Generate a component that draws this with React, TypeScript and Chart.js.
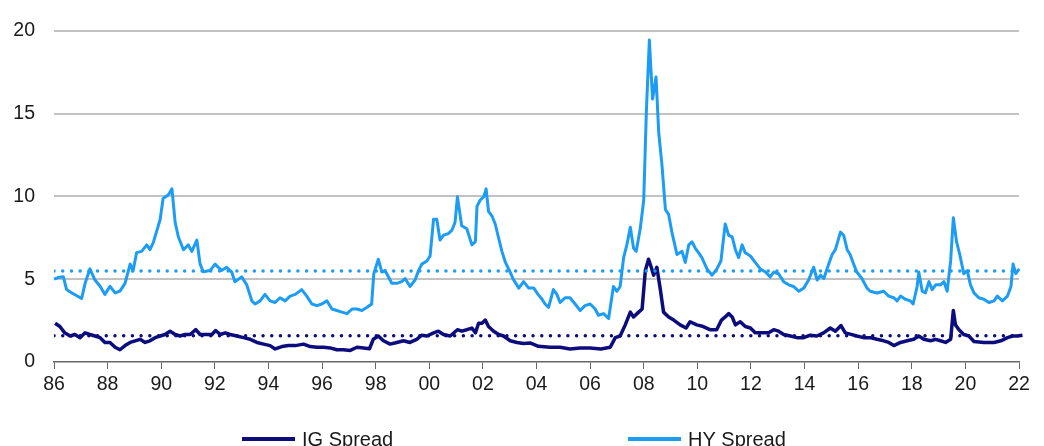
import React, { useEffect, useRef } from 'react';
import { Chart, registerables } from 'chart.js';

Chart.register(...registerables);

// ---- Data ----
const hyDates = [
  1986.0, 1986.15, 1986.35, 1986.47, 1986.66, 1986.85, 1987.03, 1987.16, 1987.34, 1987.53, 1987.72, 1987.9,
  1988.09, 1988.28, 1988.46, 1988.65, 1988.84, 1988.95, 1989.08, 1989.27, 1989.46, 1989.58, 1989.7, 1989.96,
  1990.07, 1990.27, 1990.4, 1990.52, 1990.64, 1990.83, 1991.01, 1991.14, 1991.33, 1991.45, 1991.57, 1991.82,
  1992.01, 1992.25, 1992.44, 1992.63, 1992.75, 1993.0, 1993.19, 1993.38, 1993.5, 1993.69, 1993.87, 1994.06,
  1994.25, 1994.43, 1994.62, 1994.81, 1995.0, 1995.24, 1995.43, 1995.62, 1995.81, 1995.99, 1996.18, 1996.37,
  1996.55, 1996.74, 1996.93, 1997.12, 1997.3, 1997.49, 1997.68, 1997.85, 1997.93, 1998.1, 1998.23, 1998.35,
  1998.6, 1998.79, 1998.97, 1999.1, 1999.28, 1999.47, 1999.6, 1999.72, 1999.91, 2000.03, 2000.16, 2000.28,
  2000.4, 2000.53, 2000.71, 2000.84, 2000.96, 2001.05, 2001.21, 2001.4, 2001.59, 2001.72, 2001.78, 2001.9,
  2002.03, 2002.12, 2002.21, 2002.34, 2002.46, 2002.59, 2002.71, 2002.84, 2002.96, 2003.15, 2003.34, 2003.52,
  2003.71, 2003.9, 2004.05, 2004.2, 2004.32, 2004.45, 2004.63, 2004.76, 2004.88, 2005.07, 2005.25, 2005.44,
  2005.63, 2005.81, 2006.0, 2006.19, 2006.31, 2006.5, 2006.69, 2006.87, 2007.0, 2007.12, 2007.25, 2007.37,
  2007.5, 2007.62, 2007.72, 2007.87, 2008.0, 2008.1, 2008.21, 2008.33, 2008.46, 2008.56, 2008.68, 2008.81,
  2008.93, 2009.05, 2009.24, 2009.43, 2009.55, 2009.68, 2009.8, 2009.92, 2010.05, 2010.17, 2010.36, 2010.55,
  2010.73, 2010.88, 2011.04, 2011.17, 2011.3, 2011.42, 2011.54, 2011.67, 2011.79, 2011.98, 2012.16, 2012.35,
  2012.54, 2012.72, 2012.85, 2013.03, 2013.22, 2013.41, 2013.59, 2013.78, 2013.97, 2014.15, 2014.34, 2014.47,
  2014.6, 2014.72, 2014.9, 2015.03, 2015.15, 2015.34, 2015.46, 2015.59, 2015.7, 2015.83, 2015.95, 2016.14,
  2016.33, 2016.45, 2016.7, 2016.95, 2017.14, 2017.33, 2017.45, 2017.58, 2017.76, 2017.95, 2018.05, 2018.2,
  2018.26, 2018.39, 2018.51, 2018.64, 2018.76, 2018.89, 2019.07, 2019.2, 2019.32, 2019.45, 2019.55, 2019.67,
  2019.79, 2019.94, 2020.07, 2020.19, 2020.32, 2020.5, 2020.69, 2020.88, 2021.07, 2021.19, 2021.38, 2021.57,
  2021.7, 2021.78, 2021.88, 2022.01, 2022.13,
];
const hyValues = [
  5.0, 5.1, 5.14, 4.37, 4.17, 4.0, 3.83, 4.75, 5.62, 4.95, 4.57, 4.08,
  4.57, 4.17, 4.28, 4.75, 5.91, 5.5, 6.6, 6.68, 7.07, 6.78, 7.19, 8.6,
  9.87, 10.1, 10.45, 8.42, 7.55, 6.78, 7.07, 6.68, 7.36, 5.91, 5.45, 5.52,
  5.91, 5.52, 5.72, 5.43, 4.85, 5.14, 4.66, 3.69, 3.5, 3.69, 4.08, 3.69,
  3.59, 3.88, 3.69, 3.98, 4.08, 4.37, 3.98, 3.5, 3.4, 3.5, 3.69, 3.2,
  3.11, 3.01, 2.92, 3.2, 3.2, 3.11, 3.3, 3.5, 5.33, 6.2, 5.43, 5.52,
  4.75, 4.75, 4.85, 5.04, 4.56, 4.95, 5.52, 5.91, 6.1, 6.4, 8.62, 8.62,
  7.36, 7.65, 7.75, 7.94, 8.42, 9.97, 8.23, 8.04, 7.07, 7.26, 9.39, 9.78,
  9.97, 10.45, 9.1, 8.81, 8.33, 7.46, 6.68, 6.01, 5.62, 4.95, 4.46, 4.85,
  4.46, 4.46, 4.1, 3.8, 3.5, 3.3, 4.37, 4.08, 3.59, 3.88, 3.88, 3.5,
  3.11, 3.4, 3.5, 3.2, 2.82, 2.92, 2.63, 4.56, 4.27, 4.56, 6.3, 7.07,
  8.13, 6.88, 6.68, 8.04, 9.78, 15.19, 19.44, 15.87, 17.2, 13.84, 11.9, 9.2,
  8.91, 7.84, 6.49, 6.68, 6.01, 7.07, 7.26, 6.88, 6.59, 6.3, 5.62, 5.24,
  5.62, 6.1, 8.33, 7.65, 7.55, 6.78, 6.3, 7.07, 6.59, 6.4, 6.01, 5.62,
  5.43, 5.14, 5.43, 5.33, 4.85, 4.66, 4.56, 4.27, 4.46, 4.95, 5.72, 4.95,
  5.24, 5.04, 5.91, 6.49, 6.78, 7.84, 7.65, 6.78, 6.49, 5.91, 5.43, 5.04,
  4.46, 4.27, 4.17, 4.27, 3.98, 3.88, 3.69, 3.98, 3.79, 3.69, 3.5, 4.56,
  5.43, 4.27, 4.17, 4.85, 4.37, 4.66, 4.66, 4.85, 4.27, 6.1, 8.71, 7.26,
  6.49, 5.33, 5.52, 4.66, 4.17, 3.88, 3.79, 3.59, 3.69, 3.98, 3.69, 3.98,
  4.56, 5.91, 5.33, 5.62, 4.75,
];

const igDates = [
  1986.04, 1986.22, 1986.4, 1986.6, 1986.78, 1986.97, 1987.16, 1987.34, 1987.53, 1987.72, 1987.9, 1988.09,
  1988.28, 1988.46, 1988.65, 1988.84, 1989.03, 1989.21, 1989.4, 1989.58, 1989.77, 1989.96, 1990.14, 1990.33,
  1990.52, 1990.7, 1990.89, 1991.08, 1991.29, 1991.45, 1991.7, 1991.89, 1992.03, 1992.2, 1992.39, 1992.57,
  1992.82, 1993.07, 1993.32, 1993.57, 1993.82, 1994.06, 1994.25, 1994.5, 1994.75, 1995.0, 1995.31, 1995.56,
  1995.81, 1996.06, 1996.3, 1996.55, 1996.8, 1997.05, 1997.3, 1997.55, 1997.77, 1997.91, 1998.1, 1998.29,
  1998.54, 1998.79, 1999.04, 1999.28, 1999.53, 1999.72, 1999.91, 2000.16, 2000.34, 2000.53, 2000.78, 2001.05,
  2001.21, 2001.4, 2001.59, 2001.72, 2001.84, 2001.97, 2002.09, 2002.21, 2002.4, 2002.59, 2002.77, 2003.02,
  2003.27, 2003.52, 2003.76, 2004.07, 2004.5, 2004.88, 2005.25, 2005.63, 2006.0, 2006.4, 2006.75, 2006.94,
  2007.12, 2007.31, 2007.5, 2007.62, 2007.75, 2007.94, 2008.06, 2008.18, 2008.28, 2008.37, 2008.49, 2008.62,
  2008.74, 2008.93, 2009.12, 2009.36, 2009.58, 2009.73, 2009.98, 2010.22, 2010.47, 2010.72, 2010.9, 2011.04,
  2011.17, 2011.3, 2011.42, 2011.6, 2011.79, 2011.98, 2012.16, 2012.41, 2012.66, 2012.85, 2013.03, 2013.22,
  2013.47, 2013.72, 2013.97, 2014.21, 2014.46, 2014.71, 2014.96, 2015.15, 2015.36, 2015.52, 2015.7, 2015.95,
  2016.2, 2016.45, 2016.7, 2016.95, 2017.14, 2017.33, 2017.58, 2017.83, 2018.07, 2018.26, 2018.45, 2018.7,
  2018.89, 2019.07, 2019.26, 2019.45, 2019.55, 2019.63, 2019.76, 2019.94, 2020.13, 2020.32, 2020.69, 2021.07,
  2021.32, 2021.57, 2021.76, 2021.94, 2022.13,
];
const igValues = [
  2.34, 2.14, 1.76, 1.57, 1.66, 1.47, 1.76, 1.66, 1.57, 1.47, 1.18, 1.18,
  0.89, 0.74, 0.99, 1.18, 1.28, 1.37, 1.18, 1.28, 1.47, 1.57, 1.66, 1.86,
  1.66, 1.57, 1.66, 1.66, 1.95, 1.66, 1.66, 1.66, 1.9, 1.66, 1.76, 1.66,
  1.57, 1.47, 1.37, 1.18, 1.08, 0.99, 0.79, 0.93, 0.99, 0.99, 1.08, 0.93,
  0.89, 0.89, 0.85, 0.74, 0.74, 0.7, 0.89, 0.85, 0.8, 1.37, 1.57, 1.28,
  1.08, 1.18, 1.28, 1.18, 1.37, 1.62, 1.57, 1.76, 1.86, 1.66, 1.57, 1.95,
  1.86, 1.95, 2.05, 1.76, 2.34, 2.34, 2.53, 2.14, 1.86, 1.66, 1.57, 1.28,
  1.18, 1.12, 1.15, 0.95, 0.89, 0.89, 0.79, 0.85, 0.85, 0.79, 0.89, 1.47,
  1.57, 2.24, 3.01, 2.72, 2.92, 3.2, 5.52, 6.2, 5.72, 5.24, 5.72, 4.37,
  3.01, 2.72, 2.53, 2.24, 2.05, 2.43, 2.24, 2.14, 1.95, 1.95, 2.53, 2.72,
  2.92, 2.72, 2.24, 2.43, 2.14, 2.05, 1.76, 1.76, 1.76, 1.95, 1.86, 1.66,
  1.57, 1.47, 1.47, 1.62, 1.57, 1.76, 2.05, 1.86, 2.2, 1.76, 1.68, 1.57,
  1.47, 1.47, 1.37, 1.28, 1.18, 0.99, 1.18, 1.28, 1.37, 1.57, 1.37, 1.28,
  1.37, 1.28, 1.18, 1.37, 3.11, 2.24, 1.95, 1.66, 1.57, 1.24, 1.18, 1.18,
  1.28, 1.47, 1.57, 1.57, 1.62,
];

const hyAverage = [5.49];
const igAverage = [1.58];
const xTickValues = [1986, 1988, 1990, 1992, 1994, 1996, 1998, 2000, 2002, 2004, 2006, 2008, 2010, 2012, 2014, 2016, 2018, 2020, 2022];
const xTickLabels = ['86', '88', '90', '92', '94', '96', '98', '00', '02', '04', '06', '08', '10', '12', '14', '16', '18', '20', '22'];
const yTickValues = [0, 5, 10, 15, 20];
const seriesLabels = ['IG Spread', 'HY Spread'];

// ---- Styles ----
const IG_COLOR = '#0c0c7c';
const HY_COLOR = '#1c9cf2';
const TEXT_COLOR = '#1a1a1a';
const FONT_FAMILY = '"Liberation Sans", Arial, Helvetica, sans-serif';

const toPoints = (xs: number[], ys: number[]) => xs.map((x, i) => ({ x, y: ys[i] }));
const flatLine = (v: number) => [
  { x: xTickValues[0], y: v },
  { x: xTickValues[xTickValues.length - 1], y: v },
];

const bottomLegend = {
  id: 'bottomLegend',
  afterDraw(chart: any) {
    const { ctx, chartArea } = chart;
    const items = chart.data.datasets.filter((d: any) => d.inLegend);
    ctx.save();
    ctx.font = `20px ${FONT_FAMILY}`;
    ctx.textBaseline = 'middle';
    ctx.textAlign = 'left';
    const y = chartArea.bottom + 77;
    items.forEach((d: any, i: number) => {
      const x0 = chartArea.left + 188 + i * 386;
      ctx.strokeStyle = d.borderColor;
      ctx.lineWidth = 4;
      ctx.beginPath();
      ctx.moveTo(x0, y);
      ctx.lineTo(x0 + 53, y);
      ctx.stroke();
      ctx.fillStyle = TEXT_COLOR;
      ctx.fillText(d.label, x0 + 60, y + 1);
    });
    ctx.restore();
  },
};

export default function App() {
  const canvasRef = useRef<HTMLCanvasElement | null>(null);

  useEffect(() => {
    document.body.style.margin = '0';
    const canvas = canvasRef.current;
    if (!canvas) return;
    const tickFont = { family: FONT_FAMILY, size: 19.5 };
    const chart = new Chart(canvas, {
      type: 'line',
      data: {
        datasets: [
          {
            label: 'IG average',
            data: flatLine(igAverage[0]),
            borderColor: IG_COLOR,
            borderWidth: 3.5,
            borderDash: [0.01, 8.7],
            borderCapStyle: 'round',
            pointRadius: 0,
            inLegend: false,
          } as any,
          {
            label: 'HY average',
            data: flatLine(hyAverage[0]),
            borderColor: HY_COLOR,
            borderWidth: 3.5,
            borderDash: [0.01, 8.7],
            borderCapStyle: 'round',
            pointRadius: 0,
            inLegend: false,
          } as any,
          {
            label: seriesLabels[0],
            data: toPoints(igDates, igValues),
            borderColor: IG_COLOR,
            borderWidth: 3.5,
            pointRadius: 0,
            tension: 0,
            borderJoinStyle: 'round',
            clip: 8,
            inLegend: true,
          } as any,
          {
            label: seriesLabels[1],
            data: toPoints(hyDates, hyValues),
            borderColor: HY_COLOR,
            borderWidth: 3,
            pointRadius: 0,
            tension: 0,
            borderJoinStyle: 'round',
            clip: 8,
            inLegend: true,
          } as any,
        ],
      },
      options: {
        responsive: false,
        animation: false,
        events: [],
        layout: { padding: { top: 17, right: 25, bottom: 44, left: 0 } },
        plugins: {
          legend: { display: false },
          tooltip: { enabled: false },
          title: { display: false },
        },
        scales: {
          x: {
            type: 'linear',
            min: xTickValues[0],
            max: xTickValues[xTickValues.length - 1],
            afterBuildTicks: (s: any) => {
              s.ticks = xTickValues.map((v) => ({ value: v }));
            },
            afterFit: (s: any) => {
              s.height = 40;
            },
            ticks: {
              autoSkip: false,
              maxRotation: 0,
              padding: 4,
              color: TEXT_COLOR,
              font: tickFont,
              callback: (_v: any, i: number) => xTickLabels[i],
            },
            grid: {
              display: true,
              drawOnChartArea: true,
              drawTicks: true,
              tickLength: 7,
              color: '#666666',
              tickColor: '#666666',
              lineWidth: 1,
            },
            border: { display: true, color: '#666666', width: 1.5, dash: [0, 338, 7, 3000] },
          },
          y: {
            type: 'linear',
            min: yTickValues[0],
            max: yTickValues[yTickValues.length - 1],
            afterBuildTicks: (s: any) => {
              s.ticks = yTickValues.map((v) => ({ value: v }));
            },
            afterFit: (s: any) => {
              s.width = 54;
            },
            ticks: {
              padding: 19,
              color: TEXT_COLOR,
              font: tickFont,
            },
            grid: {
              drawTicks: false,
              lineWidth: 2,
              color: (c: any) => (c.tick && c.tick.value === 0 ? 'rgba(0,0,0,0)' : '#c2c2c2'),
            },
            border: { display: false },
          },
        },
      } as any,
      plugins: [bottomLegend],
    });
    return () => chart.destroy();
  }, []);

  return (
    <div style={{ width: 1044, height: 446, overflow: 'hidden', background: '#ffffff' }}>
      <canvas ref={canvasRef} width={1044} height={446} style={{ display: 'block' }} />
    </div>
  );
}
